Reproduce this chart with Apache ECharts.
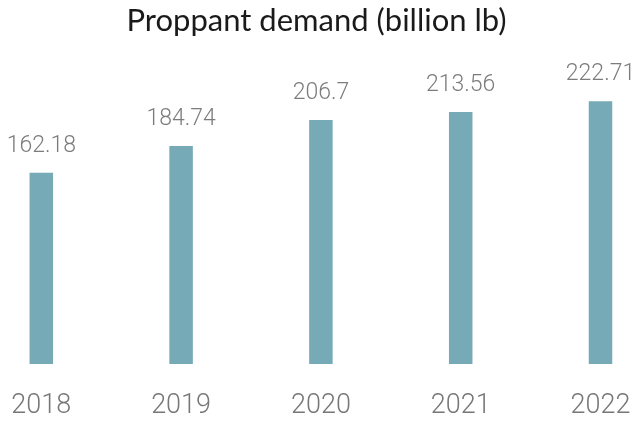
<!DOCTYPE html>
<html>
<head>
<meta charset="utf-8">
<style>
  html, body { margin: 0; padding: 0; background: #ffffff; }
  #chart { width: 633px; height: 421px; }
</style>
<script src="https://cdn.jsdelivr.net/npm/echarts@6/dist/echarts.min.js"></script>
</head>
<body>
<div id="chart"></div>
<script>
// Proppant demand by year, billion lb
const years = ['2018', '2019', '2020', '2021', '2022'];
const demand = [162.18, 184.74, 206.7, 213.56, 222.71];
const chartTitle = 'Proppant demand (billion lb)';

const chart = echarts.init(document.getElementById('chart'), null, { renderer: 'canvas' });

chart.setOption({
  animation: false,
  backgroundColor: '#ffffff',
  title: {
    text: chartTitle,
    left: 'center',
    top: 0,
    textStyle: {
      fontFamily: 'Lato',
      fontWeight: 400,
      fontSize: 31,
      color: '#1a1a1a'
    }
  },
  grid: {
    // plot band runs past the canvas edges so the outer bars sit near the sides
    left: -28.6,
    width: 699,
    top: 69,
    height: 295,
    containLabel: false,
    outerBoundsMode: 'none'
  },
  xAxis: {
    type: 'category',
    data: years,
    axisLine: { show: false },
    axisTick: { show: false },
    splitLine: { show: false },
    axisLabel: {
      margin: 29,
      fontFamily: 'Roboto',
      fontWeight: 300,
      fontSize: 27,
      color: '#777777'
    }
  },
  yAxis: {
    type: 'value',
    min: 0,
    max: 250,
    show: false
  },
  series: [{
    type: 'bar',
    data: demand,
    barWidth: 23.5,
    itemStyle: { color: '#77aab7' },
    label: {
      show: true,
      position: 'top',
      distance: 15,
      fontFamily: 'Roboto',
      fontWeight: 300,
      fontSize: 23,
      color: '#7c7c7c'
    }
  }]
});
</script>
</body>
</html>
